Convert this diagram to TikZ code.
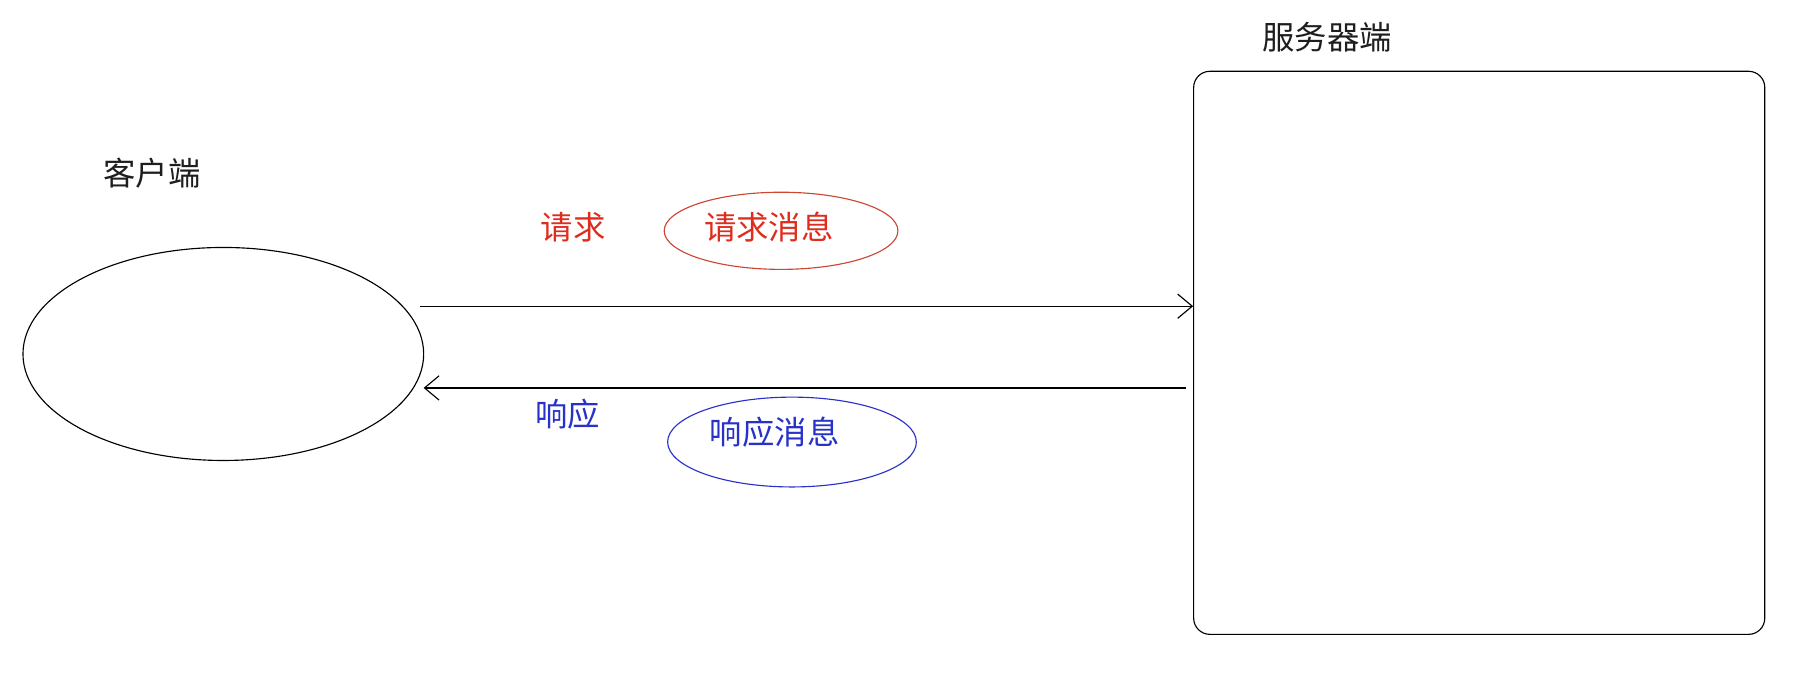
\documentclass[tikz,border=0pt]{standalone}
\usepackage{fontspec}
\newfontfamily\cjk{Noto Sans CJK SC}
\usetikzlibrary{shapes,arrows.meta,positioning}
\definecolor{reqred}{RGB}{222,45,30}
\definecolor{reqedge}{RGB}{205,70,50}
\definecolor{respblue}{RGB}{40,50,200}
\definecolor{ink}{RGB}{30,30,30}
\begin{document}
\begin{tikzpicture}[
    x=0.025cm,y=-0.025cm,
	line width=0.7pt,
	title/.style={font=\cjk\fontsize{20}{24}\selectfont, text=ink, inner sep=0},
	msgbox/.style={draw, ellipse, inner sep=0},
	flow/.style={-{Straight Barb[length=9pt,width=15pt,line width=0.7pt]}}
]
\useasboundingbox (0,0) rectangle (1568,590);

\node[draw, ellipse, minimum width=8.7cm, minimum height=4.625cm] (client) at (194,307.5) {};
\node[title] (clientlabel) at (132,150) {客户端};

\node[draw, rounded corners=10pt, minimum width=12.4cm, minimum height=12.225cm] (server) at (1285,306.5) {};
\node[title] (serverlabel) at (1153,32) {服务器端};

\node[title, text=reqred] (req) at (498,197) {请求};
\node[msgbox, draw=reqedge, minimum width=5.075cm, minimum height=1.675cm] (reqmsg) at (678.5,200.5) {};
\node[title, text=reqred] (reqtext) at (668,197) {请求消息};

\node[title, text=respblue] (resp) at (493,360) {响应};
\node[msgbox, draw=respblue, minimum width=5.4cm, minimum height=1.95cm] (respmsg) at (688,384) {};
\node[title, text=respblue] (resptext) at (673,375) {响应消息};

\coordinate (reqstart) at (365,266);
\coordinate (respstart) at (1030,337);
\coordinate (respend) at (368,337);
\draw[flow] (reqstart) -- (reqstart -| server.west);
\draw[flow] (respstart) -- (respend);
\end{tikzpicture}
\end{document}
